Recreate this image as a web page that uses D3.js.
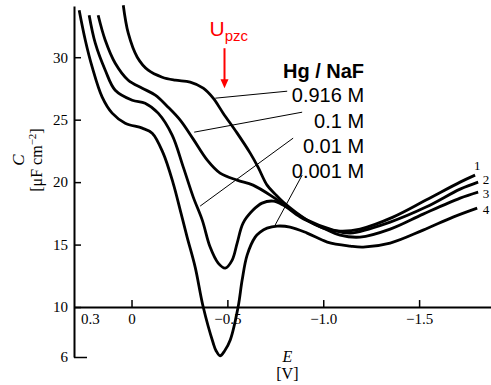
<!DOCTYPE html>
<html>
<head>
<meta charset="utf-8">
<script src="https://cdn.jsdelivr.net/npm/d3@7"></script>
<style>
body { margin: 0; background: #fff; }
</style>
</head>
<body>
<div id="chart"></div>
<script>
var width = 491;
var height = 385;

// potential E [V] and capacitance C [uF cm-2]
// curve 1 : 0.916 M
var potE1 = [0.043, 0.017, -0.030, -0.087, -0.160, -0.228, -0.306, -0.374, -0.426, -0.478, -0.551, -0.619, -0.660, -0.707, -0.749, -0.791, -0.916, -1.000, -1.088, -1.192, -1.364, -1.536, -1.714, -1.792];
var capC1 = [34.16, 31.92, 30.0, 28.96, 28.4, 28.16, 28.0, 27.52, 26.72, 25.52, 23.92, 22.32, 21.2, 19.76, 19.04, 18.4, 16.96, 16.32, 16.08, 16.24, 17.2, 18.56, 20.0, 20.56];
// curve 2 : 0.1 M
var potE2 = [0.174, 0.137, 0.085, 0.017, -0.056, -0.124, -0.191, -0.254, -0.322, -0.395, -0.462, -0.551, -0.634, -0.739, -0.812, -0.916, -1.052, -1.141, -1.349, -1.536, -1.714, -1.808];
var capC2 = [33.36, 31.36, 29.52, 28.16, 27.52, 26.96, 26.0, 24.96, 23.44, 21.76, 20.72, 20.16, 19.76, 18.8, 18.0, 16.96, 16.16, 15.92, 16.8, 18.0, 19.44, 20.0];
// curve 3 : 0.01 M
var potE3 = [0.221, 0.189, 0.137, 0.085, -0.004, -0.071, -0.139, -0.212, -0.270, -0.322, -0.369, -0.410, -0.452, -0.489, -0.525, -0.551, -0.582, -0.634, -0.681, -0.739, -0.791, -0.880, -1.000, -1.088, -1.192, -1.349, -1.521, -1.714, -1.808];
var capC3 = [33.36, 31.12, 28.96, 27.36, 26.56, 26.32, 25.52, 23.76, 21.2, 18.8, 16.96, 14.8, 13.52, 13.12, 13.76, 15.12, 16.72, 17.76, 18.32, 18.48, 18.16, 17.2, 16.32, 15.76, 15.6, 16.24, 17.44, 18.72, 19.2];
// curve 4 : 0.001 M
var potE4 = [0.273, 0.241, 0.205, 0.153, 0.101, 0.033, -0.056, -0.108, -0.165, -0.217, -0.254, -0.290, -0.332, -0.374, -0.426, -0.441, -0.462, -0.486, -0.515, -0.556, -0.577, -0.603, -0.645, -0.671, -0.707, -0.760, -0.827, -0.916, -1.021, -1.141, -1.208, -1.349, -1.521, -1.677, -1.803];
var capC4 = [33.76, 31.36, 29.2, 26.8, 25.52, 24.72, 24.32, 23.92, 22.32, 19.92, 17.76, 15.6, 13.2, 10.0, 7.12, 6.5, 6.1, 6.5, 7.36, 10.0, 12.16, 14.16, 15.6, 16.0, 16.32, 16.48, 16.4, 15.92, 15.2, 14.88, 14.8, 15.12, 16.16, 17.2, 17.92];

var curveNames = ["1", "2", "3", "4"];
var concLabels = ["0.916 M", "0.1 M", "0.01 M", "0.001 M"];
var xTicks = [0, -0.5, -1.0, -1.5];
var yTicks = [30, 25, 20, 15, 10, 6];

// where the number labels and leader lines sit (data units)
var numE = [-1.803, -1.849, -1.849, -1.849];
var numC = [21.36, 20.24, 19.12, 17.84];
var leaderFrom = [[-0.437, 26.72], [-0.327, 24.0], [-0.358, 18.08], [-0.749, 16.56]];
var leaderTo = [[-0.812, 27.28], [-0.890, 25.6], [-0.843, 23.52], [-0.890, 20.56]];
var labelE = -1.213;
var labelC = [26.4, 24.32, 22.32, 20.32];
var titleC = 28.32;
var pzcE = -0.485;

var series = [
  {name: curveNames[0], e: potE1, c: capC1},
  {name: curveNames[1], e: potE2, c: capC2},
  {name: curveNames[2], e: potE3, c: capC3},
  {name: curveNames[3], e: potE4, c: capC4}
];

var x = d3.scaleLinear().domain([0.3, -1.875]).range([74, 491]);
var y = d3.scaleLinear().domain([6, 34.1]).range([357, 6]);

var svg = d3.select("#chart").append("svg")
  .attr("width", width)
  .attr("height", height);

var serif = "'Liberation Serif', 'Times New Roman', serif";
var sans = "'Liberation Sans', Arial, sans-serif";

// x axis on C = 10, ticks pointing up
var xAxis = svg.append("g")
  .attr("transform", "translate(0," + y(10) + ")")
  .call(d3.axisBottom(x).tickValues(xTicks).tickSizeInner(-7).tickSizeOuter(0).tickPadding(6)
    .tickFormat(function(d) { return d === 0 ? "0" : d3.format(".1f")(d); }));
xAxis.attr("font-family", serif).attr("font-size", 15);
xAxis.select(".domain").attr("stroke-width", 2);
xAxis.selectAll(".tick line").attr("stroke-width", 1.5);
xAxis.selectAll(".tick text").attr("fill", "#000");

xAxis.append("text")
  .attr("x", x(0.3) + 7)
  .attr("y", 6)
  .attr("dy", "0.71em")
  .attr("fill", "#000")
  .attr("text-anchor", "start")
  .text("0.3");

// y axis at E = 0.3, ticks pointing right
var yAxis = svg.append("g")
  .attr("transform", "translate(" + x(0.3) + ",0)")
  .call(d3.axisLeft(y).tickValues(yTicks).tickSizeInner(-7).tickSizeOuter(0).tickPadding(6));
yAxis.attr("font-family", serif).attr("font-size", 15);
yAxis.select(".domain").attr("stroke-width", 2);
yAxis.selectAll(".tick line").attr("stroke-width", 1.5)
  .attr("x2", function(d) { return d === 6 ? 13 : 7; });
yAxis.selectAll(".tick text").attr("fill", "#000");

// curves
var line = d3.line()
  .x(function(d) { return x(d[0]); })
  .y(function(d) { return y(d[1]); })
  .curve(d3.curveCatmullRom.alpha(0.5));

svg.selectAll("path.curve")
  .data(series)
  .enter()
  .append("path")
  .attr("class", "curve")
  .attr("d", function(s) { return line(d3.zip(s.e, s.c)); })
  .attr("fill", "none")
  .attr("stroke", "#000")
  .attr("stroke-width", 2.8)
  .attr("stroke-linejoin", "round");

// curve numbers at the right
svg.selectAll("text.num")
  .data(curveNames)
  .enter()
  .append("text")
  .attr("class", "num")
  .attr("x", function(d, i) { return x(numE[i]); })
  .attr("y", function(d, i) { return y(numC[i]); })
  .attr("dy", "0.35em")
  .attr("text-anchor", "middle")
  .attr("font-family", serif)
  .attr("font-size", 13)
  .text(function(d) { return d; });

// leader lines
svg.selectAll("line.leader")
  .data(leaderFrom)
  .enter()
  .append("line")
  .attr("class", "leader")
  .attr("x1", function(d) { return x(d[0]); })
  .attr("y1", function(d) { return y(d[1]); })
  .attr("x2", function(d, i) { return x(leaderTo[i][0]); })
  .attr("y2", function(d, i) { return y(leaderTo[i][1]); })
  .attr("stroke", "#000")
  .attr("stroke-width", 1);

// legend text
svg.append("text")
  .attr("x", x(labelE))
  .attr("y", y(titleC))
  .attr("text-anchor", "end")
  .attr("font-family", sans)
  .attr("font-weight", "bold")
  .attr("font-size", 20)
  .text("Hg / NaF");

svg.selectAll("text.conc")
  .data(concLabels)
  .enter()
  .append("text")
  .attr("class", "conc")
  .attr("x", x(labelE))
  .attr("y", function(d, i) { return y(labelC[i]); })
  .attr("text-anchor", "end")
  .attr("font-family", sans)
  .attr("font-size", 20)
  .text(function(d) { return d; });

// U_pzc marker
var upzc = svg.append("text")
  .attr("x", x(pzcE) - 15)
  .attr("y", y(31.68))
  .attr("font-family", sans)
  .attr("font-size", 21)
  .attr("fill", "#f00");
upzc.append("tspan").text("U");
upzc.append("tspan").attr("font-size", 15).attr("dy", 5).text("pzc");

svg.append("line")
  .attr("x1", x(pzcE)).attr("y1", y(30.72))
  .attr("x2", x(pzcE)).attr("y2", y(27.52) - 7)
  .attr("stroke", "#f00")
  .attr("stroke-width", 2);
svg.append("path")
  .attr("d", "M" + (x(pzcE) - 4) + "," + (y(27.52) - 9) + "L" + (x(pzcE) + 4) + "," + (y(27.52) - 9) + "L" + x(pzcE) + "," + y(27.52) + "Z")
  .attr("fill", "#f00");

// axis titles
var cx = 18, cy = 160;
svg.append("text")
  .attr("transform", "translate(" + cx + "," + cy + ") rotate(-90)")
  .attr("text-anchor", "middle")
  .attr("dy", "0.35em")
  .attr("font-family", serif)
  .attr("font-style", "italic")
  .attr("font-size", 17)
  .text("C");

var unit = svg.append("text")
  .attr("transform", "translate(" + (cx + 18) + "," + cy + ") rotate(-90)")
  .attr("text-anchor", "middle")
  .attr("dy", "0.35em")
  .attr("font-family", serif)
  .attr("font-size", 16);
unit.append("tspan").text("[\u03bcF cm");
unit.append("tspan").attr("font-size", 11).attr("dy", -6).text("\u22122");
unit.append("tspan").attr("dy", 6).text("]");

svg.append("text")
  .attr("x", x(-0.813))
  .attr("y", 362)
  .attr("text-anchor", "middle")
  .attr("font-family", serif)
  .attr("font-style", "italic")
  .attr("font-size", 16)
  .text("E");

svg.append("text")
  .attr("x", x(-0.813))
  .attr("y", 379)
  .attr("text-anchor", "middle")
  .attr("font-family", serif)
  .attr("font-size", 16)
  .text("[V]");
</script>
</body>
</html>
